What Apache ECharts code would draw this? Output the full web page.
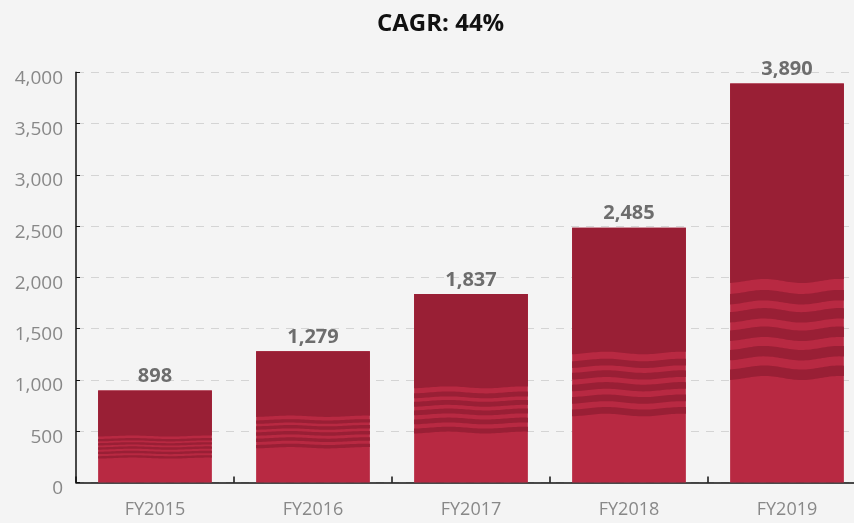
<!DOCTYPE html>
<html>
<head>
<meta charset="utf-8">
<script src="https://cdn.jsdelivr.net/npm/echarts@6/dist/echarts.min.js"></script>
<style>
html,body{margin:0;padding:0;background:#f4f4f4;overflow:hidden;}
#chart{width:870px;height:523px;}
</style>
</head>
<body>
<div id="chart"></div>
<script>
// ---- data ----
const categories = ['FY2015', 'FY2016', 'FY2017', 'FY2018', 'FY2019'];
const values = [898, 1279, 1837, 2485, 3890];
// value at which the lower (light) block ends and the wave band begins
const waveLow = [238, 339, 487, 658, 1019];
// value at which the wave band ends and the dark top block begins
const waveHigh = [453, 646, 928, 1263, 1965];
const yTicks = [0, 500, 1000, 1500, 2000, 2500, 3000, 3500, 4000];
const titleText = 'CAGR: 44%';

const DARK = '#991f35';
const LIGHT = '#b82942';
const FONT = '"Open Sans", "Noto Sans", sans-serif';

const chart = echarts.init(document.getElementById('chart'), null, {renderer: 'canvas'});

function waveLine(x0, w, yc, A, reverse) {
  const pts = [];
  const n = 48;
  for (let k = 0; k <= n; k++) {
    const f = reverse ? 1 - k / n : k / n;
    const y = yc - A * Math.cos(2 * Math.PI * (f - 0.3) / 0.66);
    pts.push([x0 + f * w, y]);
  }
  return pts;
}

function renderItem(params, api) {
  const i = api.value(0);
  const v = api.value(1);
  const lo = api.value(2);
  const hi = api.value(3);
  const base = api.coord([i, 0]);
  const top = api.coord([i, v]);
  const pLo = api.coord([i, lo]);
  const pHi = api.coord([i, hi]);
  const w = api.size([1, 0])[0] * 0.72;
  const x0 = base[0] - w / 2;
  const H = pLo[1] - pHi[1];
  const A = Math.max(0.5, 0.021 * H);
  const children = [];
  children.push({
    type: 'rect',
    shape: {x: x0, y: top[1], width: w, height: base[1] - top[1]},
    style: {fill: LIGHT}
  });
  const topPts = [[x0, top[1]], [x0 + w, top[1]]].concat(waveLine(x0, w, pHi[1], A, true));
  children.push({type: 'polygon', shape: {points: topPts}, style: {fill: DARK}});
  const stripeTops = [0.113, 0.30, 0.49, 0.69, 0.892];
  const thick = 0.108;
  stripeTops.forEach(function (t) {
    const y1 = pHi[1] + t * H;
    const y2 = pHi[1] + Math.min(1, t + thick) * H;
    const pts = waveLine(x0, w, y1, A, false).concat(waveLine(x0, w, y2, A, true));
    children.push({type: 'polygon', shape: {points: pts}, style: {fill: DARK}});
  });
  children.push({
    type: 'text',
    style: {
      x: base[0],
      y: top[1] - 4,
      text: echarts.format.addCommas(v),
      fill: '#6d6d6d',
      font: 'bold 20px ' + FONT,
      textAlign: 'center',
      textVerticalAlign: 'bottom'
    }
  });
  return {type: 'group', children: children};
}

const option = {
  backgroundColor: '#f4f4f4',
  animation: false,
  title: {
    text: titleText,
    left: 372,
    top: 7,
    textStyle: {fontFamily: FONT, fontWeight: 'bold', fontSize: 24, color: '#111'}
  },
  grid: {left: 76, width: 790, top: 72.3, bottom: 40.5, containLabel: false},
  xAxis: {
    type: 'category',
    data: categories,
    boundaryGap: true,
    axisLine: {show: true, lineStyle: {color: '#111', width: 1.5}},
    axisTick: {show: true, inside: true, length: 6, lineStyle: {color: '#111', width: 1.5}},
    axisLabel: {color: '#888', fontSize: 18, fontFamily: FONT, margin: 18}
  },
  yAxis: {
    type: 'value',
    min: yTicks[0],
    max: yTicks[yTicks.length - 1],
    interval: yTicks[1] - yTicks[0],
    axisLine: {show: true, lineStyle: {color: '#111', width: 1.5}},
    axisTick: {show: true, inside: true, length: 4, lineStyle: {color: '#111', width: 1}},
    axisLabel: {
      margin: 13,
      formatter: function (v) { return '{a|' + echarts.format.addCommas(v) + '}'; },
      rich: {a: {color: '#888', fontSize: 19, fontFamily: FONT, padding: [12, 0, 0, 0]}}
    },
    splitLine: {show: true, lineStyle: {color: '#d4d4d4', width: 1, type: [8, 7]}}
  },
  series: [{
    type: 'custom',
    renderItem: renderItem,
    encode: {x: 0, y: 1},
    data: categories.map(function (c, i) { return [i, values[i], waveLow[i], waveHigh[i]]; })
  }]
};
chart.setOption(option);
</script>
</body>
</html>
